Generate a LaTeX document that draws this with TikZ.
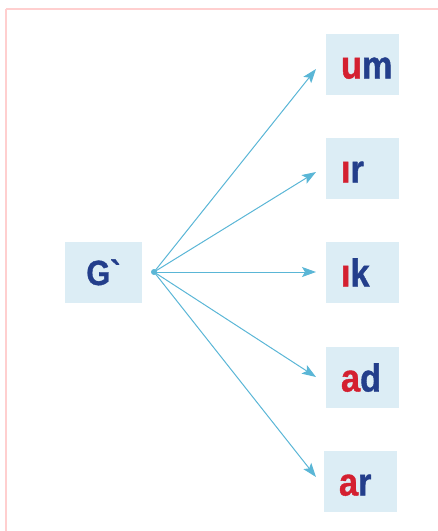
\documentclass[tikz,border=0pt]{standalone}
\usepackage{fontspec}
\usetikzlibrary{arrows.meta}
\newfontfamily\lblfont[FakeStretch=0.88,FakeBold=1]{Liberation Sans Bold}
\definecolor{rd}{HTML}{D42030}
\definecolor{bl}{HTML}{233E8B}
\definecolor{boxfill}{HTML}{DCEDF5}
\definecolor{arr}{HTML}{5AB6D6}
\definecolor{frame}{HTML}{FFCFCF}
\tikzset{
  sylbox/.style={fill=boxfill, draw=none, inner xsep=15pt, inner ysep=0pt,
    text width=43pt, align=left, minimum height=61pt, text height=28pt, text depth=0pt,
    font=\lblfont\fontsize{39}{39}\selectfont},
  rootbox/.style={fill=boxfill, draw=none, inner xsep=15pt, inner ysep=0pt,
    text width=47pt, align=center, minimum height=61pt, text height=25pt, text depth=0pt,
    font=\lblfont\fontsize{35}{35}\selectfont, text=bl},
  branch/.style={draw=arr, line width=1pt, -{Stealth[length=14pt,width=10pt,inset=3pt]}},
  hub/.style={circle, fill=arr, inner sep=0pt, minimum size=6pt}
}
\begin{document}
\begin{tikzpicture}[x=1pt,y=-1pt]
\useasboundingbox (0,0) rectangle (438,531);
\draw[frame, line width=2pt] (6,9) -- (445,9);
\draw[frame, line width=2pt] (6,9) -- (6,540);
\node[rootbox] (root) at (103.5,272.5) {G\symbol{"60}};
\node[hub] (dot) at (154,272) {};
\node[sylbox] (um) at (362.5,64.5) {\textcolor{rd}{u}\textcolor{bl}{m}};
\node[sylbox] (ir) at (362.5,168.5) {\textcolor{rd}{ı}\textcolor{bl}{r}};
\node[sylbox] (ik) at (362.5,272.5) {\textcolor{rd}{ı}\textcolor{bl}{k}};
\node[sylbox] (ad) at (362.5,377.5) {\textcolor{rd}{a}\textcolor{bl}{d}};
\node[sylbox] (ar) at (360.5,481.5) {\textcolor{rd}{a}\textcolor{bl}{r}};
\coordinate (t1) at (316,69);
\coordinate (t2) at (316,172);
\coordinate (t3) at (316,272);
\coordinate (t4) at (316,377);
\coordinate (t5) at (316,477);
\foreach \t in {t1,t2,t3,t4,t5}
  \draw[branch] (dot.center) -- (\t);
\end{tikzpicture}
\end{document}
